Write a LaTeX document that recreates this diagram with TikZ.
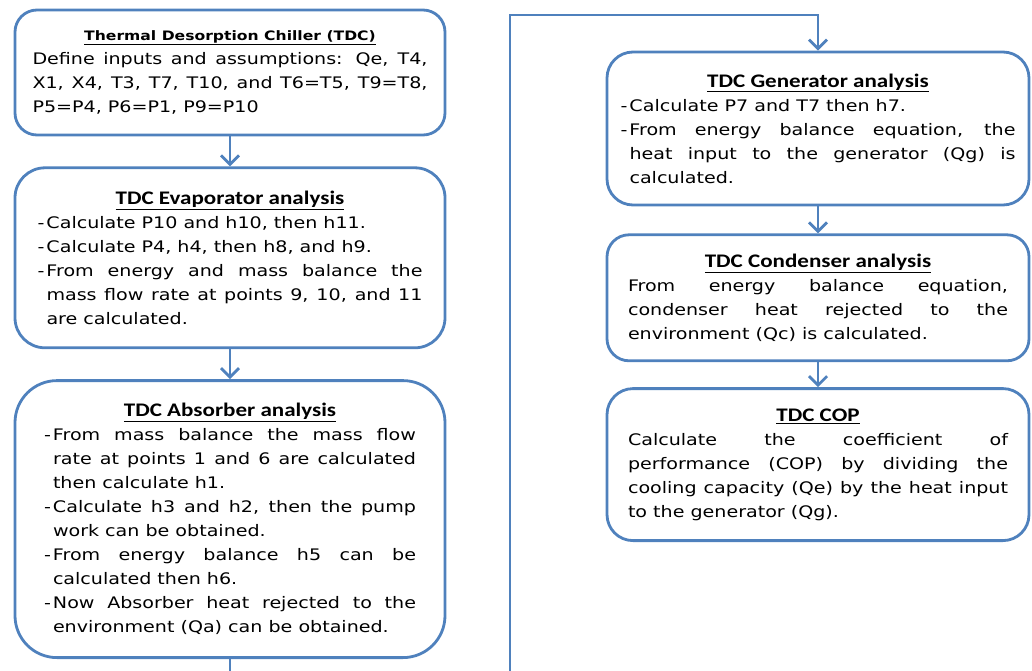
\documentclass[tikz,border=0pt]{standalone}
\usepackage{fontspec}
\setmainfont{DejaVu Sans}[FakeStretch=1.2]
\newfontfamily\ttlfont{Carlito}[FakeStretch=1.2]
\usepackage{tikz}
\usepackage{xcolor}
\usetikzlibrary{positioning,arrows.meta}

\definecolor{tdcblue}{RGB}{79,129,189}
\newcommand{\ttl}[1]{{\centering\ttlfont\bfseries\fontsize{19.2}{24}\selectfont\underline{#1}\par}}
\newcommand{\itm}[1]{\par\noindent\hangindent=9pt\hangafter=1\makebox[9pt][l]{-}#1\par}

\begin{document}
\begin{tikzpicture}[
  x=1pt, y=-1pt,
  >={Straight Barb[length=9pt,width=18pt]},
  node distance=30pt,
  box/.style={rectangle, rounded corners=22pt, draw=tdcblue, line width=2.8pt, fill=white, align=justify, inner xsep=0pt, inner ysep=0pt, font=\fontsize{15.9}{24}\selectfont},
  lbox/.style={box, minimum width=430pt},
  rbox/.style={box, minimum width=422pt},
  link/.style={draw=tdcblue, line width=2.8pt}
]
\useasboundingbox (0,0) rectangle (1032,671);
\clip (0,0) rectangle (1032,671);

% left column
\node[lbox, text width=395pt, minimum height=125pt] (tdc) at (230,72.5) {%
  {\centering\bfseries\fontsize{13}{24}\selectfont\underline{Thermal Desorption Chiller (TDC)}\par}
  Define inputs and assumptions: Qe, T4,\linebreak X1, X4, T3, T7, T10, and T6=T5, T9=T8,\linebreak P5=P4, P6=P1, P9=P10};
\node[lbox, text width=385pt, minimum height=180pt, rounded corners=30pt, below=of tdc] (evap) {%
  \ttl{TDC Evaporator analysis}
  \itm{Calculate P10 and h10, then h11.}
  \itm{Calculate P4, h4, then h8, and h9.}
  \itm{From energy and mass balance the\linebreak mass flow rate at points 9, 10, and 11\linebreak are calculated.}};
\node[lbox, text width=372pt, minimum height=277pt, rounded corners=42pt, below=of evap] (absb) {%
  \ttl{TDC Absorber analysis}
  \itm{From mass balance the mass flow\linebreak rate at points 1 and 6 are calculated\linebreak then calculate h1.}
  \itm{Calculate h3 and h2, then the pump\linebreak work can be obtained.}
  \itm{From energy balance h5 can be\linebreak calculated then h6.}
  \itm{Now Absorber heat rejected to the\linebreak environment (Qa) can be obtained.}};

% right column
\node[rbox, text width=395pt, minimum height=153pt, rounded corners=26pt] (gen) at (818,128.5) {%
  \ttl{TDC Generator analysis}
  \itm{Calculate P7 and T7 then h7.}
  \itm{From energy balance equation, the\linebreak heat input to the generator (Qg) is\linebreak calculated.}};
\node[rbox, text width=380pt, minimum height=126pt, below=27pt of gen] (cond) {%
  \ttl{TDC Condenser analysis}
  From energy balance equation,\linebreak condenser heat rejected to the\linebreak environment (Qc) is calculated.};
\node[rbox, text width=380pt, minimum height=152pt, rounded corners=26pt, below=25pt of cond] (cop) {%
  \ttl{TDC COP}
  Calculate the coefficient of\linebreak performance (COP) by dividing the\linebreak cooling capacity (Qe) by the heat input\linebreak to the generator (Qg).};

% connectors
\coordinate (lb) at (510,700);
\coordinate (lt) at (510,15);
\draw[link,->] (tdc) -- (evap);
\draw[link,->] (evap) -- (absb);
\draw[link,->] (absb.south) |- (lb) -- (lt) -| (gen.north);
\draw[link,->] (gen) -- (cond);
\draw[link,->] (cond) -- (cop);
\end{tikzpicture}
\end{document}
